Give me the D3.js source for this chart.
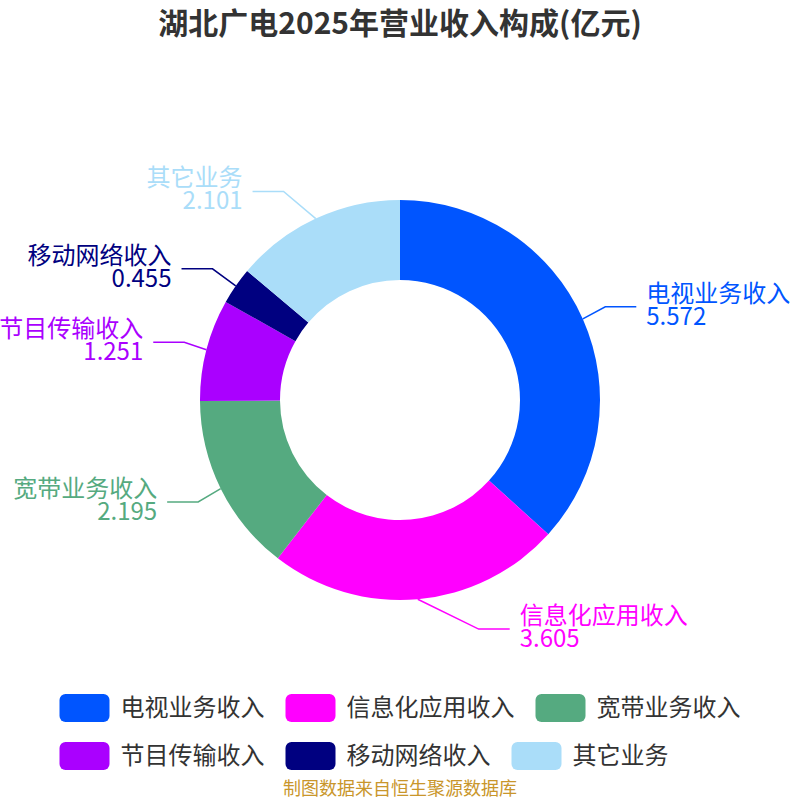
<!DOCTYPE html>
<html lang="zh">
<head>
  <meta charset="UTF-8">
  <title>湖北广电2025年营业收入构成</title>
  <script src="https://d3js.org/d3.v7.min.js"></script>
  <style>
    * { margin: 0; padding: 0; box-sizing: border-box; }
    body { background: #fff; font-family: "Noto Sans CJK SC", "Noto Sans", sans-serif; }
  </style>
</head>
<body>
  <div id="chart"></div>
  <script>
    // 数据
    const categories = ["电视业务收入", "信息化应用收入", "宽带业务收入", "节目传输收入", "移动网络收入", "其它业务"];
    const values = [5.572, 3.605, 2.195, 1.251, 0.455, 2.101];
    const colors = ["#0055FF", "#FF00FF", "#55AA80", "#AA00FF", "#000080", "#AADDF9"];

    const W = 800, H = 800;
    const cx = 400, cy = 400;
    const outerR = 200, innerR = 120;

    const svg = d3.select("#chart")
                  .append("svg")
                  .attr("width", W)
                  .attr("height", H);

    // 标题
    svg.append("text")
      .attr("x", W / 2)
      .attr("y", 34)
      .attr("text-anchor", "middle")
      .style("font-size", "30px")
      .style("font-weight", "bold")
      .style("fill", "#333")
      .text("湖北广电2025年营业收入构成(亿元)");

    const data = categories.map((c, i) => ({name: c, value: values[i], color: colors[i]}));

    const pie = d3.pie()
                  .sort(null)
                  .value(d => d.value);

    const arc = d3.arc()
                  .innerRadius(innerR)
                  .outerRadius(outerR);

    const edge = d3.arc()
                   .innerRadius(outerR)
                   .outerRadius(outerR);

    const arcs = pie(data);

    const g = svg.append("g")
                 .attr("transform", `translate(${cx},${cy})`);

    g.selectAll(".slice")
      .data(arcs)
      .enter()
      .append("path")
      .attr("class", "slice")
      .attr("d", arc)
      .attr("fill", d => d.data.color);

    // 标签引导线
    const labelR = 230, ellA = 222, ellB = 245, len2 = 31, pad = 10;
    arcs.forEach(d => {
      const mid = (d.startAngle + d.endAngle) / 2;
      const dir = Math.sin(mid) >= 0 ? 1 : -1;
      const p0 = edge.centroid(d);
      const ey = -labelR * Math.cos(mid);
      const ex = dir * ellA * Math.sqrt(Math.max(0, 1 - (ey / ellB) ** 2));
      const endX = ex + dir * len2;

      g.append("polyline")
        .attr("points", [p0, [ex, ey], [endX, ey]].map(p => p.join(",")).join(" "))
        .attr("fill", "none")
        .attr("stroke", d.data.color)
        .attr("stroke-width", 1.5);

      const t = g.append("text")
        .attr("text-anchor", dir > 0 ? "start" : "end")
        .style("font-size", "24px")
        .style("fill", d.data.color);
      t.append("tspan")
        .attr("x", endX + dir * pad)
        .attr("y", ey - 5)
        .text(d.data.name);
      t.append("tspan")
        .attr("x", endX + dir * pad)
        .attr("y", ey + 18)
        .text(d3.format(".3f")(d.data.value));
    });

    // 图例
    const legend = svg.append("g");
    const swW = 50, swH = 28, gapT = 11, gapItem = 21, rowH = 48, maxW = 760;
    const items = data.map(d => {
      const it = legend.append("g");
      it.append("rect")
        .attr("width", swW)
        .attr("height", swH)
        .attr("rx", 6)
        .attr("fill", d.color);
      const tx = it.append("text")
        .attr("x", swW + gapT)
        .attr("y", swH / 2)
        .attr("dy", "0.35em")
        .style("font-size", "24px")
        .style("fill", "#333")
        .text(d.name);
      return {g: it, w: swW + gapT + tx.node().getComputedTextLength()};
    });

    const rows = [[]];
    let rowW = 0;
    items.forEach(it => {
      const add = (rows[rows.length - 1].length ? gapItem : 0) + it.w;
      if (rowW + add > maxW) { rows.push([it]); rowW = it.w; }
      else { rows[rows.length - 1].push(it); rowW += add; }
    });
    const firstW = d3.sum(rows[0], r => r.w) + gapItem * (rows[0].length - 1);
    const startX = (W - firstW) / 2;
    rows.forEach((row, ri) => {
      let x = startX;
      row.forEach(it => {
        it.g.attr("transform", `translate(${x},${694 + ri * rowH})`);
        x += it.w + gapItem;
      });
    });

    // 来源
    svg.append("text")
      .attr("x", W / 2)
      .attr("y", 795)
      .attr("text-anchor", "middle")
      .style("font-size", "18px")
      .style("fill", "#C9962B")
      .text("制图数据来自恒生聚源数据库");
  </script>
</body>
</html>
